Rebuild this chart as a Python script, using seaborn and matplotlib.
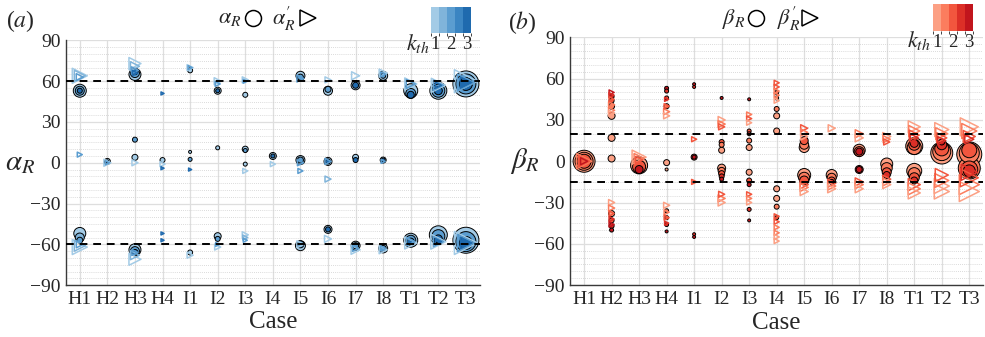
import matplotlib
matplotlib.use("Agg")
import matplotlib.pyplot as plt
import numpy as np
import pandas as pd
import seaborn as sns
from matplotlib.colors import ListedColormap, BoundaryNorm
from matplotlib.cm import ScalarMappable
from matplotlib.ticker import MultipleLocator

# ---------------------------------------------------------------- data
cases = ["H1", "H2", "H3", "H4", "I1", "I2", "I3", "I4",
         "I5", "I6", "I7", "I8", "T1", "T2", "T3"]
k_levels = [1.0, 1.5, 2.0, 2.5, 3.0]
k_ticks = [1, 2, 3]
y_ticks = [-90, -60, -30, 0, 30, 60, 90]
ref_alpha = [60, -60]
ref_beta = [20, -15]

blues = ["#a3cbe6", "#80b4da", "#5b9dd0", "#3b85c2", "#1f6aae"]
reds = ["#fca084", "#fb7d5e", "#f2563e", "#dc2f27", "#c1151d"]

# (case, angle [deg], cluster weight, k_th)
alpha_circ = [
    ("H1", 53, 13, 1.0), ("H1", 53, 9, 2.0), ("H1", 53, 5, 3.0),
    ("H1", -52, 12, 1.0), ("H1", -55, 9, 1.5), ("H1", -57, 6, 2.0),
    ("H2", 1, 6, 1.0), ("H2", 1, 3, 3.0),
    ("H3", 65, 12, 1.0), ("H3", 66, 9, 2.0), ("H3", 67, 6, 3.0),
    ("H3", 17, 5, 2.0), ("H3", 4, 6, 1.0),
    ("H3", -64, 12, 1.0), ("H3", -65, 9, 2.0), ("H3", -66, 6, 3.0),
    ("H4", 2, 5, 1.0),
    ("I1", 68, 5, 1.0), ("I1", 8, 3, 1.0), ("I1", 2.5, 4, 2.0), ("I1", -66, 5, 1.0),
    ("I2", 53, 7, 1.0), ("I2", 53, 4, 3.0), ("I2", 11, 4, 1.0),
    ("I2", -54, 7, 1.0), ("I2", -56, 5, 2.0),
    ("I3", 50, 5, 1.0), ("I3", 10, 6, 1.0), ("I3", 9, 4, 2.0), ("I3", -1, 4, 1.0),
    ("I4", 5, 7, 1.0), ("I4", 5, 4, 3.0),
    ("I5", 64, 9, 1.0), ("I5", 63, 6, 2.0), ("I5", 2, 9, 1.0), ("I5", 2, 6, 2.0),
    ("I5", -61, 10, 1.0), ("I5", -60, 7, 2.0),
    ("I6", 53, 9, 1.0), ("I6", 54, 6, 2.0), ("I6", 1, 8, 1.0), ("I6", 1, 5, 3.0),
    ("I6", -49, 8, 1.0), ("I6", -49, 5, 3.0),
    ("I7", 57, 9, 1.0), ("I7", 57, 6, 3.0), ("I7", 4, 6, 1.0), ("I7", 2, 5, 3.0),
    ("I7", -61, 9, 1.0), ("I7", -61, 6, 2.0),
    ("I8", 64, 9, 1.0), ("I8", 64, 5, 2.0), ("I8", 2, 6, 1.0), ("I8", 2, 4, 3.0),
    ("I8", -63, 9, 1.0), ("I8", -63, 6, 2.0),
    ("T1", 53, 14, 1.0), ("T1", 51, 10, 2.0), ("T1", 50, 7, 3.0),
    ("T1", -57, 14, 1.0), ("T1", -57, 10, 2.0), ("T1", -58, 7, 3.0),
    ("T2", 53, 17, 1.0), ("T2", 53, 13, 2.0), ("T2", 53, 8, 3.0),
    ("T2", -53, 18, 1.0), ("T2", -54, 13, 2.0), ("T2", -56, 8, 3.0),
    ("T3", 58, 26, 1.0), ("T3", 58, 20, 2.0), ("T3", 58, 13, 3.0),
    ("T3", -57, 26, 1.0), ("T3", -58, 20, 2.0), ("T3", -59, 13, 3.0),
]

alpha_tri = [
    ("H1", 64, 15, 1.0), ("H1", 64, 11, 1.5), ("H1", 63, 7, 2.0), ("H1", 6, 5, 2.0),
    ("H1", -62, 15, 1.0), ("H1", -61, 11, 1.5), ("H1", -60, 7, 2.0),
    ("H2", 0, 7, 1.0), ("H2", 0, 4, 2.0),
    ("H3", 73, 12, 1.0), ("H3", 71, 9, 1.5), ("H3", 68, 7, 2.0), ("H3", 66, 5, 3.0),
    ("H3", 0, 6, 1.0),
    ("H3", -71, 12, 1.0), ("H3", -68, 9, 1.5), ("H3", -66, 6, 2.0),
    ("H4", 51, 3, 3.0), ("H4", -1, 5, 1.0), ("H4", -4, 3, 3.0),
    ("H4", -52, 3, 3.0), ("H4", -57, 3, 3.0),
    ("I1", 70, 6, 1.0), ("I1", 70, 4, 2.0), ("I1", -5, 3, 3.0), ("I1", -68, 6, 1.0),
    ("I2", 60, 7, 1.0), ("I2", 58, 5, 2.0), ("I2", -62, 6, 1.0), ("I2", -60, 4, 2.0),
    ("I3", 61, 6, 1.0), ("I3", 60, 4, 2.0), ("I3", -6, 5, 1.0),
    ("I3", -53, 6, 1.0), ("I3", -55, 5, 1.5), ("I3", -57, 4, 2.0),
    ("I4", -1, 5, 1.0),
    ("I5", 62, 7, 2.0), ("I5", 0, 6, 2.0), ("I5", -6, 5, 2.0), ("I5", -60, 7, 1.0),
    ("I6", 61, 6, 1.0), ("I6", 1, 6, 2.0), ("I6", -12, 6, 1.5), ("I6", -56, 7, 1.0),
    ("I7", 64, 8, 1.0), ("I7", -64, 9, 1.0), ("I7", -63, 6, 2.0),
    ("I8", 66, 8, 1.0), ("I8", 65, 5, 2.0), ("I8", 1, 4, 2.0),
    ("I8", -64, 8, 1.0), ("I8", -63, 5, 2.0),
    ("T1", 58, 12, 1.0), ("T1", 58, 9, 2.0), ("T1", -59, 12, 1.0), ("T1", -58, 8, 2.0),
    ("T2", 57, 14, 1.0), ("T2", 57, 10, 2.0), ("T2", 57, 6, 3.0),
    ("T2", -58, 15, 1.0), ("T2", -58, 10, 2.0), ("T2", -58, 6, 3.0),
    ("T3", 60, 23, 1.0), ("T3", 59, 17, 2.0), ("T3", 59, 11, 3.0),
    ("T3", -59, 23, 1.0), ("T3", -59, 17, 2.0), ("T3", -59, 11, 3.0),
]

beta_circ = [
    ("H1", 0, 22, 1.0), ("H1", 0, 18, 1.5), ("H1", 0, 14, 2.0),
    ("H2", 47, 5, 3.0), ("H2", 44, 5, 2.0), ("H2", 40, 6, 1.5), ("H2", 33, 7, 1.0),
    ("H2", 17, 7, 1.0), ("H2", 2, 7, 1.0),
    ("H2", -38, 6, 1.0), ("H2", -43, 5, 2.0), ("H2", -47, 5, 2.5), ("H2", -50, 4, 3.0),
    ("H3", -3, 17, 1.0), ("H3", -4, 13, 2.0), ("H3", -6, 8, 3.0),
    ("H4", 53, 4, 3.0), ("H4", 51, 4, 2.5), ("H4", 46, 4, 2.0), ("H4", 40, 5, 1.5),
    ("H4", -1, 6, 1.0), ("H4", -6, 3, 1.0),
    ("H4", -36, 4, 1.5), ("H4", -41, 4, 2.0), ("H4", -46, 4, 2.5), ("H4", -51, 3, 3.0),
    ("I1", 56, 3, 3.0), ("I1", 54, 3, 2.5), ("I1", 3, 6, 2.0), ("I1", 3, 4, 3.0),
    ("I1", -53, 3, 2.5), ("I1", -55, 3, 3.0),
    ("I2", 46, 3, 3.0), ("I2", 14, 5, 2.0), ("I2", 12, 5, 1.5), ("I2", 8, 6, 1.0),
    ("I2", -5, 8, 1.0), ("I2", -7, 7, 1.5), ("I2", -9, 6, 2.0), ("I2", -11, 5, 2.5),
    ("I2", -13, 4, 3.0),
    ("I3", 45, 3, 3.0), ("I3", 22, 4, 2.0), ("I3", 20, 4, 2.5), ("I3", 15, 5, 1.5),
    ("I3", 10, 6, 1.0), ("I3", -8, 6, 1.0), ("I3", -14, 5, 2.0), ("I3", -17, 4, 3.0),
    ("I3", -35, 4, 2.5), ("I3", -43, 3, 3.0),
    ("I4", 50, 4, 2.0), ("I4", 46, 4, 1.5), ("I4", 38, 5, 1.5), ("I4", 33, 6, 1.0),
    ("I4", 22, 6, 1.0), ("I4", -20, 6, 1.0), ("I4", -27, 6, 1.0), ("I4", -33, 5, 1.5),
    ("I4", -41, 4, 2.0),
    ("I5", 15, 8, 2.0), ("I5", 12, 9, 1.5), ("I5", 10, 10, 1.0),
    ("I5", -10, 13, 1.0), ("I5", -12, 11, 1.5), ("I5", -14, 9, 2.0),
    ("I6", -10, 11, 1.0), ("I6", -12, 9, 1.5), ("I6", -14, 7, 2.0), ("I6", -15, 5, 3.0),
    ("I7", 8, 12, 1.0), ("I7", 7, 10, 2.0), ("I7", 7, 7, 3.0),
    ("I7", -6, 8, 2.5), ("I7", -6, 6, 3.0),
    ("I8", -2, 12, 1.0), ("I8", -5, 11, 1.5), ("I8", -8, 9, 2.0), ("I8", -10, 7, 2.5),
    ("T1", 11, 17, 1.0), ("T1", 10, 14, 1.5), ("T1", 12, 11, 2.0), ("T1", 13, 8, 2.5),
    ("T1", -7, 15, 1.0), ("T1", -9, 12, 1.5), ("T1", -12, 10, 2.0), ("T1", -14, 7, 2.5),
    ("T2", 6, 22, 1.0), ("T2", 7, 18, 1.5), ("T2", 9, 14, 2.0), ("T2", 12, 10, 2.5),
    ("T2", 14, 6, 3.0),
    ("T3", 5, 25, 1.0), ("T3", 6, 20, 1.5), ("T3", 8, 15, 2.0),
    ("T3", -5, 22, 1.5), ("T3", -6, 17, 2.0), ("T3", -7, 12, 2.5),
]

beta_tri = [
    ("H1", 0, 15, 1.5), ("H1", 0, 11, 2.0), ("H1", 0, 7, 3.0),
    ("H2", 50, 5, 3.0), ("H2", 48, 5, 2.5), ("H2", 45, 5, 2.0), ("H2", 41, 6, 1.5),
    ("H2", 37, 6, 1.5), ("H2", 35, 6, 1.0),
    ("H2", -30, 6, 1.0), ("H2", -34, 6, 1.5), ("H2", -38, 5, 2.0), ("H2", -42, 5, 2.5),
    ("H2", -46, 5, 3.0),
    ("H3", 3, 14, 1.0), ("H3", 2, 10, 1.5), ("H3", 1, 7, 2.0),
    ("H4", 45, 4, 2.5), ("H4", 40, 5, 2.0), ("H4", 36, 6, 1.5), ("H4", 33, 6, 1.0),
    ("H4", -32, 6, 1.0), ("H4", -37, 5, 1.5), ("H4", -41, 5, 2.0), ("H4", -45, 4, 2.5),
    ("I1", 16, 5, 2.0), ("I1", -15, 5, 2.0),
    ("I2", 30, 7, 1.0), ("I2", 27, 7, 1.5), ("I2", 25, 6, 2.0),
    ("I2", -24, 6, 2.0), ("I2", -27, 7, 1.5), ("I2", -30, 7, 1.0),
    ("I3", 34, 5, 1.5), ("I3", 31, 5, 2.0), ("I3", 28, 5, 1.0),
    ("I3", -24, 5, 2.0), ("I3", -27, 5, 1.5), ("I3", -30, 5, 1.0),
    ("I4", 57, 5, 2.0), ("I4", 54, 5, 2.0), ("I4", 51, 5, 1.5), ("I4", 48, 5, 1.5),
    ("I4", 44, 5, 1.0),
    ("I4", -40, 5, 2.0), ("I4", -44, 5, 2.0), ("I4", -48, 5, 1.5), ("I4", -52, 5, 1.5),
    ("I4", -55, 5, 1.0), ("I4", -58, 5, 1.0),
    ("I5", 24, 7, 2.0), ("I5", 21, 7, 1.5), ("I5", 18, 7, 1.0),
    ("I5", -17, 8, 2.0), ("I5", -19, 8, 1.5), ("I5", -22, 8, 1.0),
    ("I6", 24, 7, 1.0), ("I6", -16, 8, 2.0), ("I6", -18, 8, 1.5), ("I6", -20, 8, 1.0),
    ("I7", 20, 8, 1.5), ("I7", 17, 8, 1.0),
    ("I7", -15, 8, 2.0), ("I7", -17, 8, 1.5), ("I7", -20, 8, 1.0),
    ("I8", 18, 8, 1.0), ("I8", 16, 7, 1.5), ("I8", 14, 6, 2.0),
    ("I8", -13, 8, 2.0), ("I8", -15, 8, 1.5), ("I8", -17, 8, 1.0),
    ("T1", 25, 12, 1.0), ("T1", 22, 11, 1.5), ("T1", 19, 10, 2.0), ("T1", 17, 8, 2.5),
    ("T1", -17, 12, 2.0), ("T1", -20, 12, 1.5), ("T1", -23, 12, 1.0),
    ("T2", 23, 14, 1.0), ("T2", 20, 12, 1.5), ("T2", 17, 10, 2.0), ("T2", 15, 8, 2.5),
    ("T2", -10, 13, 2.0), ("T2", -14, 14, 1.5), ("T2", -18, 15, 1.0), ("T2", -22, 15, 1.0),
    ("T3", 25, 18, 1.0), ("T3", 22, 15, 1.5), ("T3", 18, 12, 2.0), ("T3", 16, 9, 2.5),
    ("T3", -8, 16, 2.5), ("T3", -12, 18, 2.0), ("T3", -17, 20, 1.5), ("T3", -22, 20, 1.0),
]

# ---------------------------------------------------------------- style
sns.set_style("white")
plt.rcParams["font.family"] = ["Liberation Serif", "DejaVu Sans"]
plt.rcParams["mathtext.fontset"] = "stix"
plt.rcParams["axes.unicode_minus"] = True

W_MAX = 27.0                      # weight that maps to the largest marker
AREA_MAX = (W_MAX * 0.72) ** 2    # marker area in pt^2 at 100 dpi


def to_frame(records):
    df = pd.DataFrame(records, columns=["case", "angle", "w", "k"])
    df["x"] = df["case"].map(cases.index)
    df["area"] = df["w"] ** 2
    return df.sort_values("area", ascending=False, kind="stable")


def draw_panel(ax, circ, tri, colors, refs):
    pal = dict(zip(k_levels, colors))
    dc = to_frame(circ)
    sns.scatterplot(data=dc, x="x", y="angle", hue="k", size="area",
                    sizes=(0, AREA_MAX), size_norm=(0, W_MAX ** 2),
                    palette=pal, marker="o", edgecolor="black", linewidth=0.7,
                    legend=False, ax=ax, zorder=3)
    dt = to_frame(tri)
    sns.scatterplot(data=dt, x="x", y="angle", hue="k", size="area",
                    sizes=(0, AREA_MAX), size_norm=(0, W_MAX ** 2),
                    palette=pal, marker=">", linewidth=1.1,
                    legend=False, ax=ax, zorder=4)
    coll = ax.collections[-1]
    coll.set_edgecolors(coll.get_facecolors())
    coll.set_facecolors("none")

    for r in refs:
        ax.axhline(r, color="black", lw=1.4, ls=(0, (4, 3)), zorder=5)

    ax.set_xlim(-0.5, len(cases) - 0.5)
    ax.set_ylim(-90, 90)
    ax.set_xticks(range(len(cases)))
    ax.set_xticklabels(cases)
    ax.set_yticks(y_ticks)
    ax.yaxis.set_minor_locator(MultipleLocator(5))
    ax.set_axisbelow(True)
    ax.grid(which="major", color="#dedede", lw=0.9)
    ax.grid(which="minor", axis="y", color="#cfcfcf", ls=(0, (1, 1.5)), lw=0.6)
    ax.tick_params(which="major", direction="in", length=4, width=0.8,
                   color="#333333", labelsize=14, pad=4)
    ax.tick_params(which="minor", length=0)
    for s in ("top", "right"):
        ax.spines[s].set_visible(False)
    for s in ("left", "bottom"):
        ax.spines[s].set_color("#3a3a3a")
        ax.spines[s].set_linewidth(1.0)
    ax.set_xlabel("Case", fontsize=18, va="center")
    ax.xaxis.set_label_coords(0.5, -0.152)


def draw_header(ax, sym, xs, y):
    """Symbol key above a panel: angle, open circle, primed angle, open triangle."""
    tr = ax.transAxes
    ax.text(xs[0], y, rf"$\{sym}_R$", transform=tr, fontsize=16,
            ha="left", va="center")
    ax.plot([xs[1]], [y + 0.004], transform=tr, clip_on=False, marker="o",
            ms=11.5, mfc="none", mec="black", mew=1.1)
    ax.text(xs[2], y, rf"$\{sym}^{{\prime}}_R$", transform=tr, fontsize=16,
            ha="left", va="center")
    ax.plot([xs[3]], [y + 0.004], transform=tr, clip_on=False, marker=">",
            ms=11.5, mfc="none", mec="black", mew=1.1)


def draw_kbar(fig, rect, colors, label_x, label_y):
    cax = fig.add_axes(rect)
    cmap = ListedColormap(colors)
    norm = BoundaryNorm([0.75, 1.25, 1.75, 2.25, 2.75, 3.25], cmap.N)
    cb = fig.colorbar(ScalarMappable(norm=norm, cmap=cmap), cax=cax,
                      orientation="horizontal", ticks=k_ticks)
    cb.outline.set_visible(False)
    cax.tick_params(length=0, labelsize=13.5, pad=2)
    fig.text(label_x, label_y, r"$k_{th}$", fontsize=16, ha="right", va="center")


fig = plt.figure(figsize=(9.85, 3.37), dpi=100)
ax_a = fig.add_axes([0.067, 0.154, 0.420, 0.726])
ax_b = fig.add_axes([0.579, 0.154, 0.419, 0.735])

draw_panel(ax_a, alpha_circ, alpha_tri, blues, ref_alpha)
draw_panel(ax_b, beta_circ, beta_tri, reds, ref_beta)

ax_a.set_ylabel(r"$\alpha_R$", fontsize=21, rotation=0, ha="center", va="center")
ax_a.yaxis.set_label_coords(-0.112, 0.5)
ax_b.set_ylabel(r"$\beta_R$", fontsize=21, rotation=0, ha="center", va="center")
ax_b.yaxis.set_label_coords(-0.11, 0.5)

draw_header(ax_a, "alpha", [0.367, 0.452, 0.498, 0.585], 1.088)
draw_header(ax_b, "beta", [0.368, 0.450, 0.501, 0.581], 1.075)

fig.text(0.021, 0.937, r"($\it{a}$)", fontsize=17, ha="center", va="center")
fig.text(0.530, 0.934, r"($\it{b}$)", fontsize=17, ha="center", va="center")

draw_kbar(fig, [0.4376, 0.902, 0.0406, 0.077], blues, 0.436, 0.872)
draw_kbar(fig, [0.947, 0.908, 0.0406, 0.080], reds, 0.945, 0.879)

fig.savefig("out.png", dpi=100)
